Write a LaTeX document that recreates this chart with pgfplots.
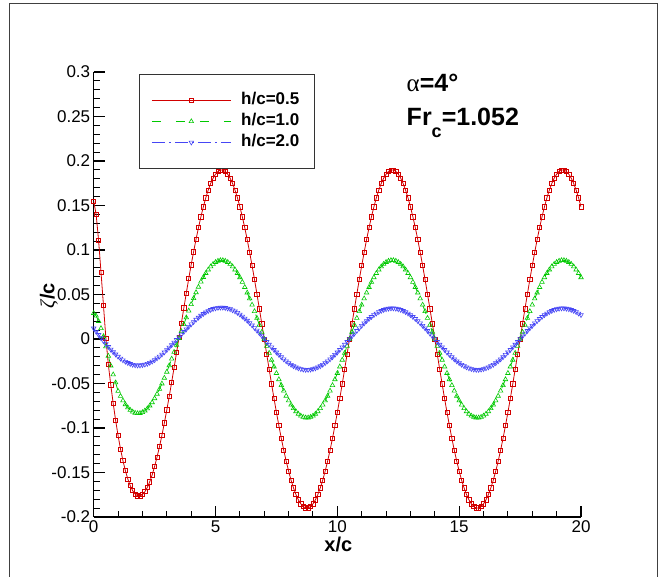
\documentclass[border=0pt]{standalone}
\usepackage{fontspec}
\setmainfont{Liberation Sans}
\newfontfamily\symf{Liberation Serif}
\usepackage{pgfplots}
\usepackage{pgfplotstable}
\pgfplotsset{compat=1.18}

\definecolor{cr}{RGB}{210,0,0}
\definecolor{cg}{RGB}{0,200,0}
\definecolor{cb}{RGB}{70,70,245}

% marks that carry their own stroke colour
\pgfdeclareplotmark{rsq}{\pgfsetstrokecolor{cr}%
  \pgfpathrectangle{\pgfpoint{-\pgfplotmarksize}{-\pgfplotmarksize}}{\pgfpoint{2\pgfplotmarksize}{2\pgfplotmarksize}}%
  \pgfusepathqstroke}
\pgfdeclareplotmark{gtri}{\pgfsetstrokecolor{cg}%
  \pgfpathmoveto{\pgfpointpolar{90}{\pgfplotmarksize}}%
  \pgfpathlineto{\pgfpointpolar{-30}{\pgfplotmarksize}}%
  \pgfpathlineto{\pgfpointpolar{210}{\pgfplotmarksize}}%
  \pgfpathclose\pgfusepathqstroke}
\pgfdeclareplotmark{btri}{\pgfsetstrokecolor{cb}%
  \pgfpathmoveto{\pgfpointpolar{-90}{\pgfplotmarksize}}%
  \pgfpathlineto{\pgfpointpolar{30}{\pgfplotmarksize}}%
  \pgfpathlineto{\pgfpointpolar{150}{\pgfplotmarksize}}%
  \pgfpathclose\pgfusepathqstroke}

% free-surface elevation, columns: x/c, h/c=0.5, h/c=1.0, h/c=2.0
\pgfplotstableread{
x r g b
0.0 0.1550 0.0290 0.0120
0.1 0.1400 0.0260 0.0083
0.2 0.1110 0.0200 0.0047
0.3 0.0750 0.0120 0.0011
0.4 0.0380 0.0030 -0.0023
0.5 0.0010 -0.0085 -0.0057
0.6 -0.0285 -0.0190 -0.0088
0.7 -0.0515 -0.0300 -0.0118
0.8 -0.0724 -0.0400 -0.0147
0.9 -0.0914 -0.0490 -0.0172
1.0 -0.1084 -0.0585 -0.0197
1.1 -0.1236 -0.0642 -0.0219
1.2 -0.1367 -0.0692 -0.0238
1.3 -0.1479 -0.0735 -0.0254
1.4 -0.1573 -0.0770 -0.0268
1.5 -0.1648 -0.0798 -0.0279
1.6 -0.1705 -0.0818 -0.0288
1.7 -0.1742 -0.0831 -0.0294
1.8 -0.1762 -0.0836 -0.0296
1.9 -0.1764 -0.0834 -0.0296
2.0 -0.1748 -0.0824 -0.0292
2.1 -0.1716 -0.0806 -0.0286
2.2 -0.1668 -0.0782 -0.0277
2.3 -0.1604 -0.0750 -0.0266
2.4 -0.1526 -0.0713 -0.0252
2.5 -0.1432 -0.0668 -0.0236
2.6 -0.1327 -0.0618 -0.0216
2.7 -0.1210 -0.0563 -0.0196
2.8 -0.1082 -0.0502 -0.0173
2.9 -0.0943 -0.0438 -0.0149
3.0 -0.0797 -0.0370 -0.0123
3.1 -0.0645 -0.0298 -0.0095
3.2 -0.0485 -0.0223 -0.0068
3.3 -0.0321 -0.0147 -0.0039
3.4 -0.0154 -0.0069 -0.0009
3.5 0.0014 0.0009 0.0021
3.6 0.0180 0.0086 0.0051
3.7 0.0349 0.0165 0.0081
3.8 0.0515 0.0241 0.0110
3.9 0.0678 0.0317 0.0138
4.0 0.0834 0.0389 0.0166
4.1 0.0979 0.0457 0.0192
4.2 0.1120 0.0523 0.0218
4.3 0.1250 0.0585 0.0241
4.4 0.1373 0.0643 0.0263
4.5 0.1485 0.0694 0.0283
4.6 0.1586 0.0739 0.0300
4.7 0.1673 0.0779 0.0316
4.8 0.1747 0.0814 0.0328
4.9 0.1807 0.0842 0.0339
5.0 0.1852 0.0863 0.0346
5.1 0.1883 0.0877 0.0352
5.2 0.1898 0.0884 0.0354
5.3 0.1898 0.0884 0.0354
5.4 0.1883 0.0877 0.0350
5.5 0.1852 0.0863 0.0344
5.6 0.1807 0.0842 0.0336
5.7 0.1747 0.0814 0.0324
5.8 0.1673 0.0779 0.0311
5.9 0.1586 0.0739 0.0295
6.0 0.1485 0.0692 0.0276
6.1 0.1373 0.0640 0.0253
6.2 0.1250 0.0582 0.0231
6.3 0.1117 0.0520 0.0207
6.4 0.0974 0.0454 0.0181
6.5 0.0824 0.0384 0.0154
6.6 0.0668 0.0311 0.0125
6.7 0.0505 0.0235 0.0096
6.8 0.0339 0.0158 0.0066
6.9 0.0170 0.0079 0.0035
7.0 0.0000 0.0000 0.0004
7.1 -0.0170 -0.0079 -0.0031
7.2 -0.0339 -0.0158 -0.0062
7.3 -0.0505 -0.0235 -0.0092
7.4 -0.0668 -0.0311 -0.0121
7.5 -0.0824 -0.0384 -0.0150
7.6 -0.0974 -0.0454 -0.0177
7.7 -0.1117 -0.0520 -0.0203
7.8 -0.1250 -0.0582 -0.0227
7.9 -0.1373 -0.0640 -0.0249
8.0 -0.1485 -0.0692 -0.0270
8.1 -0.1586 -0.0739 -0.0288
8.2 -0.1673 -0.0779 -0.0304
8.3 -0.1747 -0.0814 -0.0317
8.4 -0.1807 -0.0842 -0.0328
8.5 -0.1852 -0.0863 -0.0336
8.6 -0.1883 -0.0877 -0.0342
8.7 -0.1898 -0.0884 -0.0345
8.8 -0.1898 -0.0884 -0.0345
8.9 -0.1883 -0.0877 -0.0342
9.0 -0.1852 -0.0863 -0.0336
9.1 -0.1807 -0.0842 -0.0328
9.2 -0.1747 -0.0814 -0.0317
9.3 -0.1673 -0.0779 -0.0304
9.4 -0.1586 -0.0739 -0.0288
9.5 -0.1485 -0.0692 -0.0270
9.6 -0.1373 -0.0640 -0.0249
9.7 -0.1250 -0.0582 -0.0227
9.8 -0.1117 -0.0520 -0.0203
9.9 -0.0974 -0.0454 -0.0177
10.0 -0.0824 -0.0384 -0.0150
10.1 -0.0668 -0.0311 -0.0121
10.2 -0.0505 -0.0235 -0.0092
10.3 -0.0339 -0.0158 -0.0062
10.4 -0.0170 -0.0079 -0.0031
10.5 0.0000 0.0000 0.0000
10.6 0.0170 0.0079 0.0031
10.7 0.0339 0.0158 0.0062
10.8 0.0505 0.0235 0.0092
10.9 0.0668 0.0311 0.0121
11.0 0.0824 0.0384 0.0150
11.1 0.0974 0.0454 0.0177
11.2 0.1117 0.0520 0.0203
11.3 0.1250 0.0582 0.0227
11.4 0.1373 0.0640 0.0249
11.5 0.1485 0.0692 0.0270
11.6 0.1586 0.0739 0.0288
11.7 0.1673 0.0779 0.0304
11.8 0.1747 0.0814 0.0317
11.9 0.1807 0.0842 0.0328
12.0 0.1852 0.0863 0.0336
12.1 0.1883 0.0877 0.0342
12.2 0.1898 0.0884 0.0345
12.3 0.1898 0.0884 0.0345
12.4 0.1883 0.0877 0.0342
12.5 0.1852 0.0863 0.0336
12.6 0.1807 0.0842 0.0328
12.7 0.1747 0.0814 0.0317
12.8 0.1673 0.0779 0.0304
12.9 0.1586 0.0739 0.0288
13.0 0.1485 0.0692 0.0270
13.1 0.1373 0.0640 0.0249
13.2 0.1250 0.0582 0.0227
13.3 0.1117 0.0520 0.0203
13.4 0.0974 0.0454 0.0177
13.5 0.0824 0.0384 0.0150
13.6 0.0668 0.0311 0.0121
13.7 0.0505 0.0235 0.0092
13.8 0.0339 0.0158 0.0062
13.9 0.0170 0.0079 0.0031
14.0 0.0000 0.0000 0.0000
14.1 -0.0170 -0.0079 -0.0031
14.2 -0.0339 -0.0158 -0.0062
14.3 -0.0505 -0.0235 -0.0092
14.4 -0.0668 -0.0311 -0.0121
14.5 -0.0824 -0.0384 -0.0150
14.6 -0.0974 -0.0454 -0.0177
14.7 -0.1117 -0.0520 -0.0203
14.8 -0.1250 -0.0582 -0.0227
14.9 -0.1373 -0.0640 -0.0249
15.0 -0.1485 -0.0692 -0.0270
15.1 -0.1586 -0.0739 -0.0288
15.2 -0.1673 -0.0779 -0.0304
15.3 -0.1747 -0.0814 -0.0317
15.4 -0.1807 -0.0842 -0.0328
15.5 -0.1852 -0.0863 -0.0336
15.6 -0.1883 -0.0877 -0.0342
15.7 -0.1898 -0.0884 -0.0345
15.8 -0.1898 -0.0884 -0.0345
15.9 -0.1883 -0.0877 -0.0342
16.0 -0.1852 -0.0863 -0.0336
16.1 -0.1807 -0.0842 -0.0328
16.2 -0.1747 -0.0814 -0.0317
16.3 -0.1673 -0.0779 -0.0304
16.4 -0.1586 -0.0739 -0.0288
16.5 -0.1485 -0.0692 -0.0270
16.6 -0.1373 -0.0640 -0.0249
16.7 -0.1250 -0.0582 -0.0227
16.8 -0.1117 -0.0520 -0.0203
16.9 -0.0974 -0.0454 -0.0177
17.0 -0.0824 -0.0384 -0.0150
17.1 -0.0668 -0.0311 -0.0121
17.2 -0.0505 -0.0235 -0.0092
17.3 -0.0339 -0.0158 -0.0062
17.4 -0.0170 -0.0079 -0.0031
17.5 0.0000 0.0000 0.0000
17.6 0.0170 0.0079 0.0031
17.7 0.0339 0.0158 0.0062
17.8 0.0505 0.0235 0.0092
17.9 0.0668 0.0311 0.0121
18.0 0.0824 0.0384 0.0150
18.1 0.0974 0.0454 0.0177
18.2 0.1117 0.0520 0.0203
18.3 0.1250 0.0582 0.0227
18.4 0.1373 0.0640 0.0249
18.5 0.1485 0.0692 0.0270
18.6 0.1586 0.0739 0.0288
18.7 0.1673 0.0779 0.0304
18.8 0.1747 0.0814 0.0317
18.9 0.1807 0.0842 0.0328
19.0 0.1852 0.0863 0.0336
19.1 0.1883 0.0877 0.0342
19.2 0.1898 0.0884 0.0345
19.3 0.1898 0.0884 0.0345
19.4 0.1883 0.0877 0.0342
19.5 0.1852 0.0863 0.0336
19.6 0.1807 0.0842 0.0328
19.7 0.1747 0.0814 0.0317
19.8 0.1673 0.0779 0.0304
19.9 0.1586 0.0739 0.0288
20.0 0.1485 0.0692 0.0270
}\wave

\begin{document}
\begin{tikzpicture}
\useasboundingbox (-93.7pt,-60pt) rectangle (567.3pt,517pt);
\draw[black!75, line width=1pt] (-83.7pt,-61pt) -- (-83.7pt,513.5pt) -- (563.8pt,513.5pt) -- (563.8pt,-61pt);
\begin{axis}[
  at={(0pt,0pt)}, anchor=south west,
  width=487.3pt, height=445pt, scale only axis,
  xmin=0, xmax=20, ymin=-0.2, ymax=0.3,
  axis x line*=bottom, axis y line*=left,
  axis line style={line width=1.6pt},
  tick align=inside,
  major tick length=11pt, minor tick length=6pt,
  tick style={black, line width=1.2pt},
  minor tick style={line width=1pt},
  scaled ticks=false,
  xtick={0,5,10,15,20},
  xticklabels={0,5,10,15,20},
  ytick={-0.2,-0.15,-0.1,-0.05,0,0.05,0.1,0.15,0.2,0.25,0.3},
  yticklabels={-0.2,-0.15,-0.1,-0.05,0,0.05,0.1,0.15,0.2,0.25,0.3},
  minor x tick num=4, minor y tick num=4,
  ticklabel style={font=\fontsize{17}{20}\selectfont},
  xlabel={x/c},
  xlabel style={at={(axis description cs:0.502,0)}, anchor=base, yshift=-35pt, font=\bfseries\fontsize{20}{24}\selectfont},
  ylabel={{\symf\itshape ζ}\textbf{/c}},
  ylabel style={at={(axis description cs:-0.092,0.497)}, anchor=center, font=\fontsize{20}{24}\selectfont},
  legend cell align=left,
  legend image code/.code={\draw[mark repeat=2,mark phase=2,#1] plot coordinates {(0pt,0pt) (39.5pt,0pt) (79pt,0pt)};},
  legend style={at={(rel axis cs:0.093,0.9955)}, anchor=north west,
    draw=black!80, line width=0.8pt, fill=white,
    inner xsep=12pt, inner ysep=15.5pt, column sep=7pt,
    font=\bfseries\fontsize{17}{20}\selectfont,
    nodes={text height=12pt, text depth=3pt, inner ysep=3pt, inner xsep=3pt}},
]
\addplot[color=cr, line width=0.8pt, mark=rsq, mark size=2.1pt,
  mark options={solid, line width=0.7pt}] table[x=x, y=r] {\wave};
\addplot[color=cg, line width=0.8pt, dash pattern=on 9pt off 15pt, mark=gtri, mark size=2.6pt,
  mark options={solid, line width=0.6pt}] table[x=x, y=g] {\wave};
\addplot[color=cb, line width=0.8pt, dash pattern=on 13pt off 4pt on 2pt off 4pt, mark=btri, mark size=2.6pt,
  mark options={solid, line width=0.6pt}] table[x=x, y=b] {\wave};
\legend{h/c=0.5, h/c=1.0, h/c=2.0}
\node[anchor=base west, inner sep=0pt, font=\bfseries\fontsize{25}{30}\selectfont] at (rel axis cs:0.642,0.956) {{\symf\mdseries α}=4°};
\node[anchor=base west, inner sep=0pt, font=\bfseries\fontsize{25}{30}\selectfont] at (rel axis cs:0.642,0.879) {Fr\raisebox{-12pt}{\fontsize{18}{18}\selectfont c}=1.052};
\end{axis}
\end{tikzpicture}
\end{document}
